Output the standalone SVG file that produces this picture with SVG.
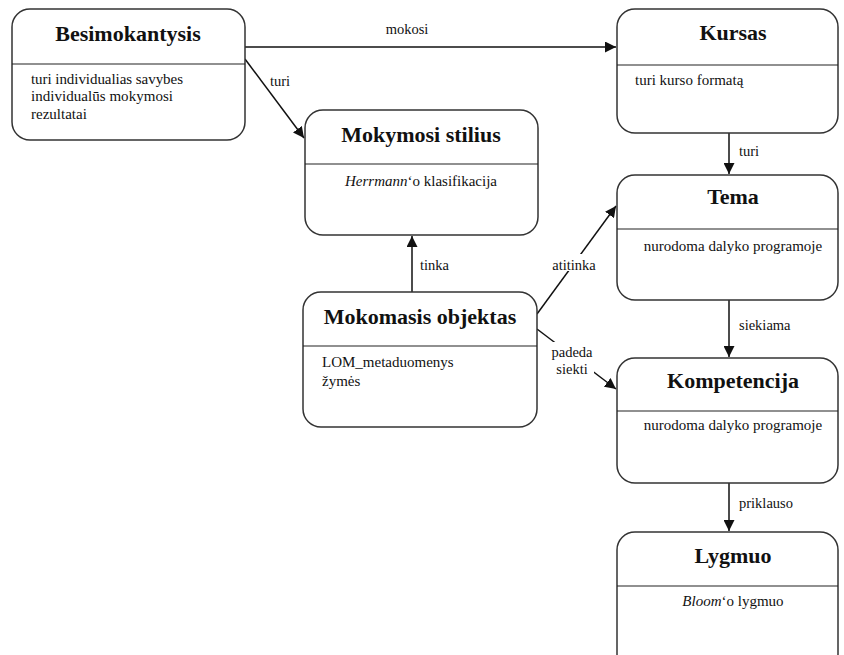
<svg xmlns="http://www.w3.org/2000/svg" width="844" height="655" viewBox="0 0 844 655">
<style>
.box{fill:#fff;stroke:#333;stroke-width:1.5}
.div{stroke:#222;stroke-width:1.2}
.title{font-family:"Liberation Serif","Times New Roman",serif;font-weight:bold;font-size:22px;fill:#111;text-anchor:middle}
.body{font-family:"Liberation Serif","Times New Roman",serif;font-size:15px;fill:#111}
.c{text-anchor:middle}
.lbl{font-family:"Liberation Serif","Times New Roman",serif;font-size:14.5px;fill:#111}
.conn{stroke:#111;stroke-width:1.5;fill:none}
</style>
<defs>
<marker id="arr" viewBox="0 0 10 10" refX="10" refY="5" markerWidth="11" markerHeight="11" markerUnits="userSpaceOnUse" orient="auto">
<path d="M0,0 L10,5 L0,10 z" fill="#111"/>
</marker>
</defs>
<rect width="844" height="655" fill="#fff"/>
<g id="connectors">
<line class="conn" x1="245" y1="47" x2="616" y2="47" marker-end="url(#arr)"/>
<line class="conn" x1="245" y1="59" x2="304" y2="138" marker-end="url(#arr)"/>
<line class="conn" x1="729" y1="133" x2="729" y2="174" marker-end="url(#arr)"/>
<line class="conn" x1="729" y1="300" x2="729" y2="357" marker-end="url(#arr)"/>
<line class="conn" x1="729" y1="483" x2="729" y2="531" marker-end="url(#arr)"/>
<line class="conn" x1="412" y1="292" x2="412" y2="236" marker-end="url(#arr)"/>
<line class="conn" x1="537" y1="314" x2="616" y2="206" marker-end="url(#arr)"/>
<line class="conn" x1="537" y1="329" x2="616" y2="389" marker-end="url(#arr)"/>
<rect x="551" y="254" width="46" height="17" fill="#fff"/>
<rect x="550" y="342" width="44" height="35" fill="#fff"/>
<text class="lbl c" x="407" y="34">mokosi</text>
<text class="lbl" x="270" y="86">turi</text>
<text class="lbl" x="739" y="156">turi</text>
<text class="lbl" x="739" y="330">siekiama</text>
<text class="lbl" x="739" y="508">priklauso</text>
<text class="lbl" x="420" y="270">tinka</text>
<text class="lbl c" x="574" y="270">atitinka</text>
<text class="lbl c" x="572" y="357">padeda</text>
<text class="lbl c" x="572" y="374">siekti</text>
</g>
<g id="besimokantysis">
<rect class="box" x="12" y="9" width="233" height="131" rx="18"/>
<line class="div" x1="12" y1="64" x2="245" y2="64"/>
<text class="title" x="128" y="41">Besimokantysis</text>
<text class="body" x="31" y="84" textLength="152">turi individualias  savybes</text>
<text class="body" x="31" y="101" textLength="142">individualūs  mokymosi</text>
<text class="body" x="31" y="119">rezultatai</text>
</g>
<g id="mokymosi-stilius">
<rect class="box" x="305" y="110" width="233" height="125" rx="18"/>
<line class="div" x1="305" y1="164" x2="538" y2="164"/>
<text class="title" x="421" y="142">Mokymosi stilius</text>
<text class="body c" x="421" y="186"><tspan font-style="italic">Herrmann</tspan>‘o klasifikacija</text>
</g>
<g id="kursas">
<rect class="box" x="617" y="9" width="221" height="124" rx="18"/>
<line class="div" x1="617" y1="65" x2="838" y2="65"/>
<text class="title" x="733" y="40">Kursas</text>
<text class="body" x="635" y="85">turi kurso formatą</text>
</g>
<g id="tema">
<rect class="box" x="617" y="175" width="221" height="125" rx="18"/>
<line class="div" x1="617" y1="229" x2="838" y2="229"/>
<text class="title" x="733" y="204">Tema</text>
<text class="body c" x="733" y="251">nurodoma dalyko programoje</text>
</g>
<g id="mokomasis-objektas">
<rect class="box" x="303" y="292" width="234" height="135" rx="18"/>
<line class="div" x1="303" y1="346" x2="537" y2="346"/>
<text class="title" x="420" y="324">Mokomasis objektas</text>
<text class="body" x="322" y="367">LOM_metaduomenys</text>
<text class="body" x="322" y="386">žymės</text>
</g>
<g id="kompetencija">
<rect class="box" x="617" y="358" width="221" height="125" rx="18"/>
<line class="div" x1="617" y1="411" x2="838" y2="411"/>
<text class="title" x="733" y="388">Kompetencija</text>
<text class="body c" x="733" y="430">nurodoma dalyko programoje</text>
</g>
<g id="lygmuo">
<rect class="box" x="617" y="532" width="221" height="140" rx="18"/>
<line class="div" x1="617" y1="586" x2="838" y2="586"/>
<text class="title" x="733" y="563">Lygmuo</text>
<text class="body c" x="733" y="606"><tspan font-style="italic">Bloom</tspan>‘o lygmuo</text>
</g>
</svg>
